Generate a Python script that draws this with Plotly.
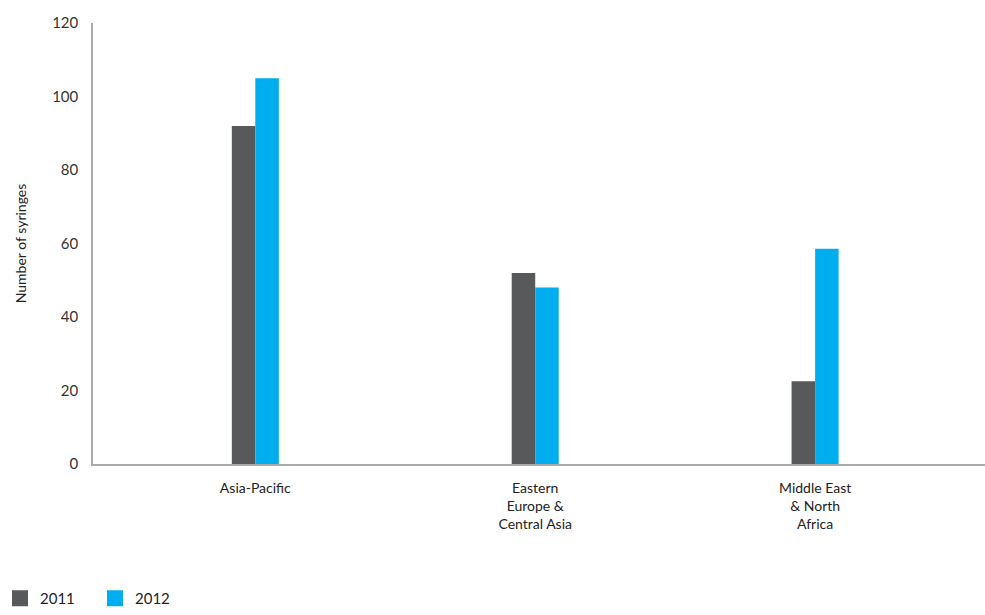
import plotly.graph_objects as go

categories = ["Asia-Pacific", "Eastern<br>Europe &<br>Central Asia", "Middle East<br>& North<br>Africa"]
series_names = ["2011", "2012"]
values_2011 = [92, 52, 22.5]
values_2012 = [105, 48, 58.6]
colors = ["#58595b", "#00aeef"]

fig = go.Figure()
for name, vals, col in zip(series_names, [values_2011, values_2012], colors):
    fig.add_trace(go.Bar(name=name, x=categories, y=vals, marker=dict(color=col, line=dict(width=0)),
                         showlegend=False))
for name, col in zip(series_names, colors):
    fig.add_trace(go.Scatter(name=name, x=[None], y=[None], mode="markers",
                             marker=dict(symbol="square", size=19, color=col), showlegend=True))

fig.update_layout(
    width=985, height=615,
    margin=dict(l=93, r=0, t=23, b=151),
    paper_bgcolor="white", plot_bgcolor="white",
    barmode="group", bargap=0.832, bargroupgap=0,
    font=dict(family="Lato, Open Sans, sans-serif", size=14, color="#333333"),
    showlegend=True,
    legend=dict(orientation="h", x=-0.128, xanchor="left", y=-0.02, yref="container", yanchor="bottom",
                entrywidth=50, entrywidthmode="pixels", font=dict(size=15, color="#222222"),
                itemsizing="trace", tracegroupgap=0),
    xaxis=dict(range=[-0.58, 2.607], showline=True, linecolor="#aaaaaa", linewidth=2,
               ticks="", showgrid=False, zeroline=False, ticklabelstandoff=10,
               tickfont=dict(size=14, color="#222222")),
    yaxis=dict(range=[0, 120], dtick=20, showline=True, linecolor="#aaaaaa", linewidth=1.5,
               ticks="", showgrid=False, zeroline=False, ticklabelstandoff=10,
               tickfont=dict(size=15, color="#333333"),
               title=dict(text="Number of syringes", font=dict(size=14, color="#222222"), standoff=22)),
)

fig.write_html("out.html", config={"displayModeBar": False},
               post_script="document.body.style.margin='0px';")
